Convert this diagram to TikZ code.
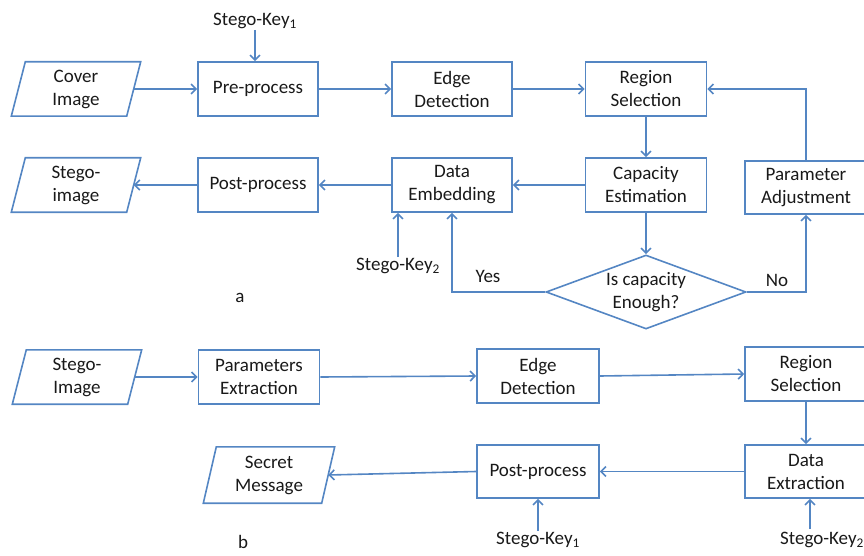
\documentclass[tikz,border=0pt]{standalone}
\usepackage{fontspec}
\setmainfont{Carlito}
\usetikzlibrary{arrows.meta,shapes.geometric,calc}
\definecolor{flowblue}{RGB}{84,134,195}
\definecolor{ink}{RGB}{25,25,25}
\tikzset{
  line/.style={draw=flowblue, line width=1.6pt},
  conn/.style={line, -{Straight Barb[length=5pt,width=10pt]}},
  stepbox/.style={rectangle, line, minimum width=120pt, minimum height=54pt,
    inner sep=0pt, align=center, text=ink},
  iobox/.style={rectangle, minimum width=115pt, minimum height=54pt,
    inner sep=0pt, align=center, text=ink},
  decision/.style={diamond, line, minimum width=200pt, minimum height=74pt,
    inner sep=0pt, align=center, text=ink, aspect=2.7},
  lbl/.style={text=ink, inner sep=1pt},
}
% slanted outline around an input/output node
\newcommand{\slantbox}[2]{%
  \draw[line] ([xshift=-#2]#1.south west) -- ([xshift=#2]#1.north west)
    -- ([xshift=#2]#1.north east) -- ([xshift=-#2]#1.south east) -- cycle;}
\begin{document}
\begin{tikzpicture}[x=1pt, y=-1pt, font=\fontsize{19}{23}\selectfont]
\useasboundingbox (0,0) rectangle (864,556);

% ---- (a) embedding ----
\node[iobox] (cover) at (76,89) {Cover\\Image};
\slantbox{cover}{7pt}
\node[stepbox] (pre) at (258,89) {Pre-process};
\node[stepbox] (edge) at (452,89) {Edge\\Detection};
\node[stepbox, minimum width=121pt] (region) at (646,89) {Region\\Selection};
\node[stepbox, minimum width=122pt, minimum height=53pt] (adjust) at (806,187.5) {Parameter\\Adjustment};
\node[stepbox, minimum width=121pt] (cap) at (646,185) {Capacity\\Estimation};
\node[stepbox] (embed) at (452,185) {Data\\Embedding};
\node[stepbox] (post) at (258,185) {Post-process};
\node[iobox] (stego) at (76,185) {Stego-\\image};
\slantbox{stego}{7pt}
\node[decision] (enough) at (646,292) {Is capacity\\Enough?};

\node[lbl] (keya) at (255,21) {Stego-Key\textsubscript{1}};
\node[lbl] (keyb) at (398,266) {Stego-Key\textsubscript{2}};

\draw[conn] (cover.east) -- (pre.west);
\draw[conn] (pre.east) -- (edge.west);
\draw[conn] (edge.east) -- (region.west);
\draw[conn] (keya.south) -- (keya.south |- pre.north);
\draw[conn] (region.south) -- (cap.north);
\draw[conn] (cap.west) -- (embed.east);
\draw[conn] (embed.west) -- (post.east);
\draw[conn] (post.west) -- (stego.east);
\draw[conn] (cap.south) -- (enough.north);
\draw[conn] (enough.west) -| (embed.south);
\draw[conn] (enough.east) -| (adjust.south);
\draw[conn] (adjust.north) |- (region.east);
\draw[conn] (keyb.north) -- (keyb.north |- embed.south);

\node[lbl] at (488,276) {Yes};
\node[lbl] at (777,280) {No};
\node[lbl] (capa) at (240,298) {a};

% ---- (b) extraction ----
\node[iobox] (stegoin) at (77,377) {Stego-\\Image};
\slantbox{stegoin}{7pt}
\node[stepbox, minimum width=121pt] (pext) at (259,377) {Parameters\\Extraction};
\node[stepbox, minimum width=122pt] (edgeb) at (538,376) {Edge\\Detection};
\node[stepbox, minimum width=122pt] (regionb) at (806,374) {Region\\Selection};
\node[stepbox, minimum width=122pt, minimum height=53pt] (dext) at (806,471.5) {Data\\Extraction};
\node[stepbox, minimum width=122pt, minimum height=53pt] (postb) at (538,471.5) {Post-process};
\node[iobox, minimum width=118pt, minimum height=56pt] (secret) at (269,475) {Secret\\Message};
\slantbox{secret}{6.5pt}

\node[lbl] (keyc) at (538,540) {Stego-Key\textsubscript{1}};
\node[lbl] (keyd) at (822,540) {Stego-Key\textsubscript{2}};
\coordinate (keydtop) at (810,529);

\draw[conn] (stegoin.east) -- (pext.west);
\draw[conn] (pext.east) -- (edgeb.west);
\draw[conn] (edgeb.east) -- (regionb.west);
\draw[conn] (regionb.south) -- (dext.north);
\draw[conn] (dext.west) -- (postb.east);
\draw[conn] (postb.west) -- (secret.east);
\draw[conn] (keyc.north) -- (postb.south);
\draw[conn] (keydtop) -- (keydtop |- dext.south);

\node[lbl, anchor=south] (capb) at (243,550) {b};
\end{tikzpicture}
\end{document}
